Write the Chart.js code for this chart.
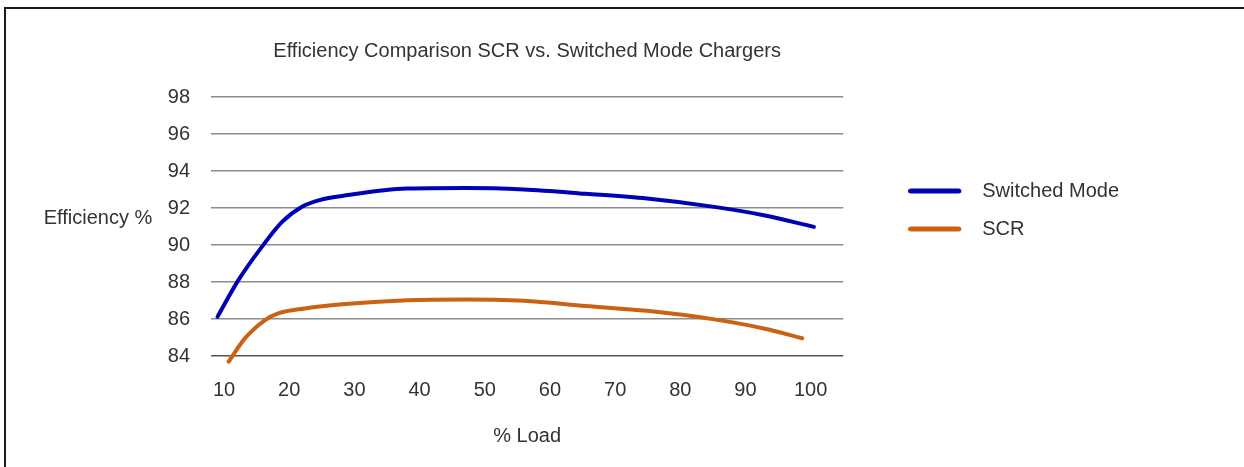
<!DOCTYPE html>
<html>
<head>
<meta charset="utf-8">
<script src="https://cdn.jsdelivr.net/npm/chart.js@4/dist/chart.umd.min.js"></script>
<style>
  body { margin: 0; background: #fff; }
  .frame { position: relative; width: 1244px; height: 467px; overflow: hidden; }
  .frame::before {
    content: ''; position: absolute; left: 4px; top: 7px; right: -10px; bottom: -10px;
    border-top: 2px solid #1a1a1a; border-left: 2px solid #1a1a1a; pointer-events: none;
  }
  canvas { position: absolute; left: 0; top: 0; }
</style>
</head>
<body>
<div class="frame"><canvas class="chart-js" width="1244" height="467"></canvas></div>
<script>
const TITLE = 'Efficiency Comparison SCR vs. Switched Mode Chargers';
const Y_TITLE = 'Efficiency %';
const X_TITLE = '% Load';

const loadTicks = [10, 20, 30, 40, 50, 60, 70, 80, 90, 100];

const switchedLoad = [9, 12.2, 15.8, 18.9, 21.9, 25, 28.1, 38.1, 47, 56, 65.5, 74.9, 85.2, 92.8, 100.5];
const switchedEff = [86.12, 88.1, 89.9, 91.25, 92.06, 92.46, 92.65, 93.05, 93.08, 93.0, 92.77, 92.51, 92.06, 91.61, 90.98];

const scrLoad = [10.7, 13.2, 16.3, 18.3, 22.4, 28.1, 38.1, 47, 56, 65.5, 74.9, 85.2, 92.8, 98.7];
const scrEff = [83.69, 84.95, 85.94, 86.3, 86.57, 86.8, 87.02, 87.06, 86.98, 86.7, 86.44, 85.98, 85.49, 84.96];

const BLUE = '#0000b4';
const ORANGE = '#cb6113';
const TEXT = '#333';
const FONT = '"Liberation Sans", Arial, sans-serif';

Chart.defaults.font.family = FONT;
Chart.defaults.font.size = 20;
Chart.defaults.color = TEXT;

function toPoints(xs, ys) {
  return xs.map((x, i) => ({ x, y: ys[i] }));
}

// legend marker: a short thick line, drawn on a small canvas
function legendSwatch(color) {
  const c = document.createElement('canvas');
  c.width = 64;
  c.height = 8;
  const g = c.getContext('2d');
  g.strokeStyle = color;
  g.lineWidth = 5;
  g.lineCap = 'round';
  g.beginPath();
  g.moveTo(2.5, 4);
  g.lineTo(50.5, 4);
  g.stroke();
  return c;
}

const sideLabel = {
  id: 'sideLabel',
  afterDraw(chart) {
    const { ctx, chartArea } = chart;
    ctx.save();
    ctx.font = '20px ' + FONT;
    ctx.fillStyle = TEXT;
    ctx.textAlign = 'center';
    ctx.textBaseline = 'middle';
    ctx.fillText(Y_TITLE, 98, chartArea.top + 121);
    ctx.restore();
  },
};

const ctx = document.querySelector('.chart-js').getContext('2d');

const lineStyle = {
  borderWidth: 4,
  pointRadius: 0,
  cubicInterpolationMode: 'monotone',
  borderCapStyle: 'round',
  clip: false,
  fill: false,
};

new Chart(ctx, {
  type: 'line',
  data: {
    datasets: [
      {
        label: 'Switched Mode',
        data: toPoints(switchedLoad, switchedEff),
        borderColor: BLUE,
        backgroundColor: BLUE,
        ...lineStyle,
      },
      {
        label: 'SCR',
        data: toPoints(scrLoad, scrEff),
        borderColor: ORANGE,
        backgroundColor: ORANGE,
        ...lineStyle,
      },
    ],
  },
  options: {
    responsive: false,
    animation: false,
    layout: { padding: { left: 0, right: 115, top: 0, bottom: 0 } },
    plugins: {
      tooltip: { enabled: false },
      title: {
        display: true,
        text: TITLE,
        fullSize: false,
        color: TEXT,
        font: { size: 20, weight: 'normal' },
        padding: { top: 39, bottom: 34 },
      },
      legend: {
        position: 'right',
        align: 'start',
        fullSize: false,
        maxWidth: 400,
        title: { display: true, text: ' ', font: { size: 1 }, padding: { top: 64.8, bottom: 0 } },
        labels: {
          color: TEXT,
          font: { size: 20 },
          padding: 18,
          usePointStyle: true,
          pointStyleWidth: 64,
          generateLabels(chart) {
            const items = Chart.defaults.plugins.legend.labels.generateLabels(chart);
            const colors = [BLUE, ORANGE];
            items.forEach((item, i) => { item.pointStyle = legendSwatch(colors[i]); });
            return items;
          },
        },
      },
    },
    scales: {
      x: {
        type: 'linear',
        min: 8,
        max: 105,
        afterBuildTicks(scale) {
          scale.ticks = loadTicks.map(value => ({ value }));
        },
        afterFit(scale) { scale.height = 111; },
        grid: { display: false, drawTicks: false },
        border: { display: false },
        ticks: { padding: 22, color: TEXT, font: { size: 20 }, maxRotation: 0 },
        title: { display: true, text: X_TITLE, color: TEXT, font: { size: 20 }, padding: { top: 0, bottom: 19 } },
      },
      y: {
        min: 84,
        max: 98,
        afterFit(scale) { scale.width = 211; },
        ticks: { stepSize: 2, padding: 21, color: TEXT, font: { size: 20 } },
        grid: {
          drawTicks: false,
          lineWidth: 1.5,
          color: c => (c.tick && c.tick.value === 84 ? '#555' : '#8c8c8c'),
        },
        border: { display: false },
      },
      gap: {
        position: 'right',
        display: true,
        afterFit(scale) { scale.width = 47; },
        grid: { display: false },
        border: { display: false },
        ticks: { display: false },
      },
    },
  },
  plugins: [sideLabel],
});
</script>
</body>
</html>
